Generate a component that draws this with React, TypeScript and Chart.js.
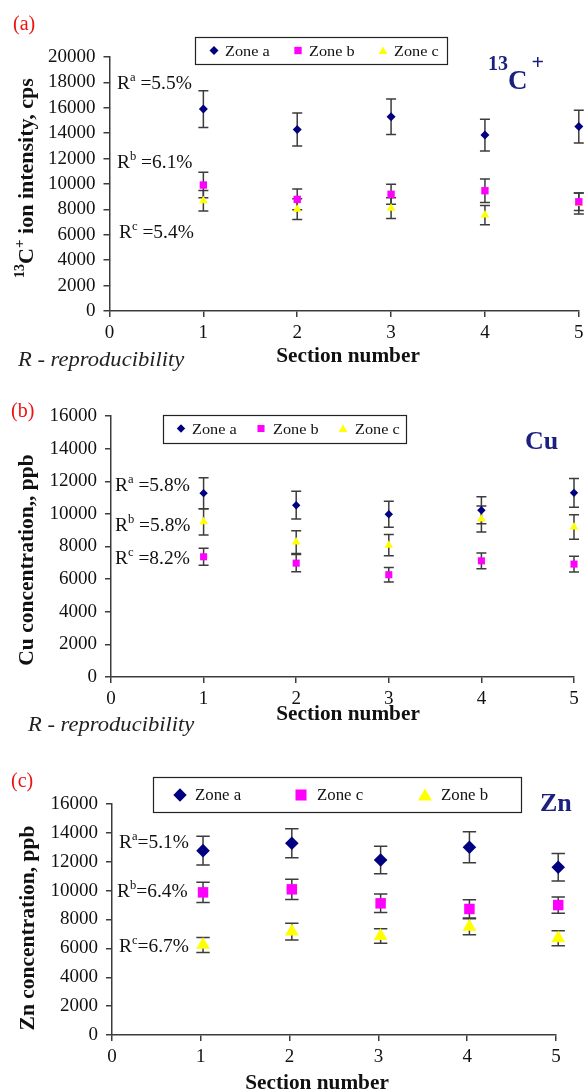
import React, { useEffect, useRef } from 'react';
import { Chart, registerables } from 'chart.js';

Chart.register(...registerables);

// ---------------- DATA ----------------
const SECTIONS = [1, 2, 3, 4, 5];
const ZN_SECTION_X = [1.025, 2.025, 3.025, 4.025, 5.025];
const X_TICKS = [0, 1, 2, 3, 4, 5];

// Panel (a): 13C+ ion intensity, cps
const C13_ZONE_A = [15900, 14300, 15300, 13850, 14520];
const C13_ZONE_A_ERR = [1450, 1300, 1400, 1255, 1290];
const C13_ZONE_B = [9920, 8790, 9190, 9470, 8600];
const C13_ZONE_B_ERR = [1000, 815, 790, 930, 690];
const C13_ZONE_C = [8680, 8020, 8100, 7550, 8470];
const C13_ZONE_C_ERR = [810, 815, 810, 760, 830];

// Panel (b): Cu concentration, ppb
const CU_ZONE_A = [11270, 10530, 9980, 10220, 11290];
const CU_ZONE_A_ERR = [950, 850, 800, 830, 880];
const CU_ZONE_B = [7370, 6980, 6270, 7120, 6920];
const CU_ZONE_B_ERR = [520, 530, 440, 480, 480];
const CU_ZONE_C = [9510, 8270, 8080, 9690, 9200];
const CU_ZONE_C_ERR = [800, 700, 650, 800, 750];

// Panel (c): Zn concentration, ppb
const ZN_ZONE_A = [12770, 13280, 12120, 13000, 11620];
const ZN_ZONE_A_ERR = [1000, 1000, 950, 1070, 950];
const ZN_ZONE_C = [9880, 10090, 9120, 8730, 9000];
const ZN_ZONE_C_ERR = [700, 700, 640, 630, 560];
const ZN_ZONE_B = [6240, 7160, 6860, 7500, 6700];
const ZN_ZONE_B_ERR = [520, 580, 500, 550, 520];

// ---------------- STYLE ----------------
const FONT = '"Liberation Serif", "Times New Roman", Times, serif';
const W = 584;
const H = 1092;
const AXIS = '#3c3c3c';
const NAVY = '#000080';
const MAGENTA = '#ff00ff';
const YELLOW = '#ffff00';
const TITLE_BLUE = '#1b1f7e';
const RED = '#ee1111';
const XH = 32;
const SX = 1.05;

type Seg = { t: string; size: number; raise?: number; weight?: string; style?: string; dx?: number };
type TextItem = { segs: Seg[]; x: number; y: number; align: 'left' | 'center'; color: string; rotate?: boolean; sx?: number };
type SeriesDef = { label: string; xs: number[]; values: number[]; errors: number[]; color: string; style: 'rectRot' | 'rect' | 'triangle'; radius: number };
type LegendDef = { box: [number, number, number, number]; cy: number; items: { mx: number; tx: number; si: number; r: number }[]; size: number };
type PanelDef = {
  area: { left: number; top: number; right: number; bottom: number };
  yMax: number;
  series: SeriesDef[];
  cap: number;
  legend: LegendDef;
  texts: TextItem[];
};

const sup = (t: string, size: number, raise: number, weight = 'normal', dx = 0): Seg => ({ t, size, raise, weight, dx });
const txt = (t: string, size: number, weight = 'normal', style = 'normal'): Seg => ({ t, size, weight, style });

function rLabel(letter: string, rest: string, x: number, y: number): TextItem {
  return { segs: [txt('R', 18.5), sup(letter, 12, 8), txt(rest, 18.5)], x, y, align: 'left', color: '#111' };
}

const PANELS: PanelDef[] = [
  {
    area: { left: 109.5, top: 57, right: 579, bottom: 311 },
    yMax: 20000,
    cap: 5,
    series: [
      { label: 'Zone a', xs: SECTIONS, values: C13_ZONE_A, errors: C13_ZONE_A_ERR, color: NAVY, style: 'rectRot', radius: 4.5 },
      { label: 'Zone b', xs: SECTIONS, values: C13_ZONE_B, errors: C13_ZONE_B_ERR, color: MAGENTA, style: 'rect', radius: 5.2 },
      { label: 'Zone c', xs: SECTIONS, values: C13_ZONE_C, errors: C13_ZONE_C_ERR, color: YELLOW, style: 'triangle', radius: 5 },
    ],
    legend: {
      box: [195, 37, 447, 64], cy: 50.5, size: 15.5,
      items: [{ mx: 214, tx: 225, si: 0, r: 4.5 }, { mx: 298, tx: 309, si: 1, r: 5.2 }, { mx: 383, tx: 394, si: 2, r: 5 }],
    },
    texts: [
      { segs: [txt('(a)', 20)], x: 13, y: 30, align: 'left', color: RED, sx: 1 },
      { segs: [sup('13', 20, 19, 'bold'), txt('C', 27, 'bold'), sup('+', 22, 20, 'bold', 4)], x: 488, y: 89, align: 'left', color: TITLE_BLUE, sx: 1 },
      rLabel('a', ' =5.5%', 117, 89),
      rLabel('b', ' =6.1%', 117, 168),
      rLabel('c', ' =5.4%', 119, 238),
      { segs: [sup('13', 14, 9, 'bold'), txt('C', 22, 'bold'), sup('+', 15, 9, 'bold'), txt(' ion intensity, cps', 22, 'bold')], x: 25.5, y: 178, align: 'center', color: '#111', rotate: true },
      { segs: [txt('Section number', 20.3, 'bold')], x: 348, y: 361.6, align: 'center', color: '#111' },
      { segs: [txt('R - reproducibility', 21.5, 'normal', 'italic')], x: 18, y: 366, align: 'left', color: '#222' },
    ],
  },
  {
    area: { left: 111, top: 416, right: 574, bottom: 677 },
    yMax: 16000,
    cap: 5,
    series: [
      { label: 'Zone a', xs: SECTIONS, values: CU_ZONE_A, errors: CU_ZONE_A_ERR, color: NAVY, style: 'rectRot', radius: 4.2 },
      { label: 'Zone b', xs: SECTIONS, values: CU_ZONE_B, errors: CU_ZONE_B_ERR, color: MAGENTA, style: 'rect', radius: 5 },
      { label: 'Zone c', xs: SECTIONS, values: CU_ZONE_C, errors: CU_ZONE_C_ERR, color: YELLOW, style: 'triangle', radius: 5 },
    ],
    legend: {
      box: [163, 415, 406, 443], cy: 428.5, size: 15.5,
      items: [{ mx: 181, tx: 192, si: 0, r: 4.2 }, { mx: 261, tx: 273, si: 1, r: 5 }, { mx: 343, tx: 355, si: 2, r: 5 }],
    },
    texts: [
      { segs: [txt('(b)', 20)], x: 11, y: 417, align: 'left', color: RED, sx: 1 },
      { segs: [txt('Cu', 26, 'bold')], x: 525, y: 448.6, align: 'left', color: TITLE_BLUE, sx: 1 },
      rLabel('a', ' =5.8%', 115, 491),
      rLabel('b', ' =5.8%', 115, 531),
      rLabel('c', ' =8.2%', 115, 564),
      { segs: [txt('Cu concentration,, ppb', 21.5, 'bold')], x: 26, y: 560, align: 'center', color: '#111', rotate: true },
      { segs: [txt('Section number', 20.3, 'bold')], x: 348, y: 720, align: 'center', color: '#111' },
      { segs: [txt('R - reproducibility', 21.5, 'normal', 'italic')], x: 28, y: 731, align: 'left', color: '#222' },
    ],
  },
  {
    area: { left: 112, top: 804, right: 556, bottom: 1035 },
    yMax: 16000,
    cap: 6.7,
    series: [
      { label: 'Zone a', xs: ZN_SECTION_X, values: ZN_ZONE_A, errors: ZN_ZONE_A_ERR, color: NAVY, style: 'rectRot', radius: 6.8 },
      { label: 'Zone c', xs: ZN_SECTION_X, values: ZN_ZONE_C, errors: ZN_ZONE_C_ERR, color: MAGENTA, style: 'rect', radius: 7.4 },
      { label: 'Zone b', xs: ZN_SECTION_X, values: ZN_ZONE_B, errors: ZN_ZONE_B_ERR, color: YELLOW, style: 'triangle', radius: 7.9 },
    ],
    legend: {
      box: [153, 777, 521, 812], cy: 795, size: 16,
      items: [{ mx: 180, tx: 195, si: 0, r: 6.7 }, { mx: 301, tx: 317, si: 1, r: 7.8 }, { mx: 425, tx: 441, si: 2, r: 8 }],
    },
    texts: [
      { segs: [txt('(c)', 20)], x: 11, y: 787, align: 'left', color: RED, sx: 1 },
      { segs: [txt('Zn', 26, 'bold')], x: 540, y: 810.6, align: 'left', color: TITLE_BLUE, sx: 1 },
      rLabel('a', '=5.1%', 119, 848),
      rLabel('b', '=6.4%', 117, 897),
      rLabel('c', '=6.7%', 119, 952),
      { segs: [txt('Zn concentration, ppb', 21.5, 'bold')], x: 26.5, y: 928, align: 'center', color: '#111', rotate: true },
      { segs: [txt('Section number', 20.3, 'bold')], x: 317, y: 1088.6, align: 'center', color: '#111' },
    ],
  },
];

// ---------------- DRAW HELPERS ----------------
function setFont(ctx: CanvasRenderingContext2D, s: Seg) {
  ctx.font = `${s.style || 'normal'} ${s.weight || 'normal'} ${s.size}px ${FONT}`;
}
function richWidth(ctx: CanvasRenderingContext2D, segs: Seg[]) {
  let w = 0;
  for (const s of segs) { setFont(ctx, s); w += ctx.measureText(s.t).width + (s.dx || 0); }
  return w;
}
function drawRich(ctx: CanvasRenderingContext2D, segs: Seg[], x: number, baseline: number) {
  let cx = x;
  ctx.textBaseline = 'alphabetic';
  ctx.textAlign = 'left';
  for (const s of segs) {
    setFont(ctx, s);
    cx += s.dx || 0;
    ctx.fillText(s.t, cx, baseline - (s.raise || 0));
    cx += ctx.measureText(s.t).width;
  }
}
function drawMarker(ctx: CanvasRenderingContext2D, style: string, x: number, y: number, r: number, color: string) {
  ctx.beginPath();
  if (style === 'rectRot') {
    ctx.moveTo(x - r, y); ctx.lineTo(x, y - r); ctx.lineTo(x + r, y); ctx.lineTo(x, y + r);
  } else if (style === 'rect') {
    const s = Math.SQRT1_2 * r;
    ctx.rect(x - s, y - s, 2 * s, 2 * s);
  } else {
    const a = (2 * Math.PI) / 3;
    ctx.moveTo(x, y - r);
    ctx.lineTo(x + Math.sin(a) * r, y - Math.cos(a) * r);
    ctx.lineTo(x + Math.sin(2 * a) * r, y - Math.cos(2 * a) * r);
  }
  ctx.closePath();
  ctx.fillStyle = color;
  ctx.fill();
}

const errorBarPlugin = (p: PanelDef) => ({
  id: 'errorBars',
  beforeDatasetsDraw(chart: any) {
    const { ctx } = chart;
    const x = chart.scales.x;
    const y = chart.scales.y;
    ctx.save();
    ctx.strokeStyle = AXIS;
    ctx.lineWidth = 1.5;
    chart.data.datasets.forEach((ds: any) => {
      ds.data.forEach((pt: any) => {
        const px = x.getPixelForValue(pt.x);
        const yt = y.getPixelForValue(pt.y + pt.err);
        const yb = y.getPixelForValue(pt.y - pt.err);
        ctx.beginPath();
        ctx.moveTo(px, yt); ctx.lineTo(px, yb);
        ctx.moveTo(px - p.cap, yt); ctx.lineTo(px + p.cap, yt);
        ctx.moveTo(px - p.cap, yb); ctx.lineTo(px + p.cap, yb);
        ctx.stroke();
      });
    });
    ctx.restore();
  },
});

const overlayPlugin = (p: PanelDef) => ({
  id: 'overlay',
  afterDraw(chart: any) {
    const ctx: CanvasRenderingContext2D = chart.ctx;
    ctx.save();
    // legend
    const [x0, y0, x1, y1] = p.legend.box;
    ctx.fillStyle = '#fff';
    ctx.fillRect(x0, y0, x1 - x0, y1 - y0);
    ctx.strokeStyle = '#222';
    ctx.lineWidth = 1.2;
    ctx.strokeRect(x0 + 0.5, y0 + 0.5, x1 - x0, y1 - y0);
    for (const it of p.legend.items) {
      const s = p.series[it.si];
      drawMarker(ctx, s.style, it.mx, p.legend.cy + (s.style === 'triangle' ? it.r * 0.2 : 0), it.r, s.color);
      ctx.fillStyle = '#111';
      ctx.save();
      ctx.translate(it.tx, 0);
      ctx.scale(SX, 1);
      drawRich(ctx, [txt(s.label, p.legend.size)], 0, p.legend.cy + p.legend.size * 0.33);
      ctx.restore();
    }
    // texts
    for (const t of p.texts) {
      ctx.fillStyle = t.color;
      const w = richWidth(ctx, t.segs);
      if (t.rotate) {
        ctx.save();
        ctx.translate(t.x, t.y);
        ctx.rotate(-Math.PI / 2);
        const base = t.segs[t.segs.length - 1].size;
        drawRich(ctx, t.segs, -w / 2, base * 0.33);
        ctx.restore();
      } else {
        const sx = t.sx ?? SX;
        ctx.save();
        ctx.translate(t.align === 'center' ? t.x - (w * sx) / 2 : t.x, 0);
        ctx.scale(sx, 1);
        drawRich(ctx, t.segs, 0, t.y);
        ctx.restore();
      }
    }
    ctx.restore();
  },
});

function makeConfig(p: PanelDef): any {
  const tickFont = { family: FONT, size: 19 };
  return {
    type: 'scatter',
    data: {
      datasets: p.series.map((s) => ({
        label: s.label,
        data: s.xs.map((sec, i) => ({ x: sec, y: s.values[i], err: s.errors[i] })),
        pointStyle: s.style,
        pointRadius: s.radius,
        pointBackgroundColor: s.color,
        pointBorderWidth: 0,
        pointBorderColor: s.color,
        showLine: false,
        clip: false,
      })),
    },
    options: {
      responsive: false,
      animation: false,
      devicePixelRatio: 1,
      events: [],
      layout: {
        padding: { left: 0, top: p.area.top, right: W - p.area.right, bottom: H - p.area.bottom - XH },
      },
      plugins: { legend: { display: false }, tooltip: { enabled: false } },
      scales: {
        x: {
          type: 'linear',
          min: X_TICKS[0],
          max: X_TICKS[X_TICKS.length - 1],
          ticks: { stepSize: 1, font: tickFont, color: '#111', padding: 5, maxRotation: 0, autoSkip: false, callback: (v: any) => String(v) },
          grid: { drawOnChartArea: false, drawTicks: true, tickLength: 6, color: AXIS, lineWidth: 1.5 },
          border: { display: true, color: AXIS, width: 1.5 },
          afterFit: (s: any) => { s.height = XH; s.paddingLeft = 0; s.paddingRight = 0; },
        },
        y: {
          type: 'linear',
          min: 0,
          max: p.yMax,
          ticks: { stepSize: 2000, font: tickFont, color: '#111', padding: 8, autoSkip: false, callback: (v: any) => String(v) },
          grid: { drawOnChartArea: false, drawTicks: true, tickLength: 6, color: AXIS, lineWidth: 1.5 },
          border: { display: true, color: AXIS, width: 1.5 },
          afterFit: (s: any) => { s.width = p.area.left; s.paddingTop = 0; s.paddingBottom = 0; },
        },
      },
    },
    plugins: [errorBarPlugin(p), overlayPlugin(p)],
  };
}

export default function App() {
  const r0 = useRef<HTMLCanvasElement>(null);
  const r1 = useRef<HTMLCanvasElement>(null);
  const r2 = useRef<HTMLCanvasElement>(null);
  const refs = [r0, r1, r2];
  useEffect(() => {
    const charts = PANELS.map((p, i) => new Chart(refs[i].current as HTMLCanvasElement, makeConfig(p)));
    return () => charts.forEach((c) => c.destroy());
  }, []);
  return (
    <div style={{ position: 'absolute', left: 0, top: 0, width: W, height: H, background: '#fff', overflow: 'hidden' }}>
      {PANELS.map((_, i) => (
        <canvas key={i} ref={refs[i]} width={W} height={H} style={{ position: 'absolute', left: 0, top: 0, width: W, height: H }} />
      ))}
    </div>
  );
}
